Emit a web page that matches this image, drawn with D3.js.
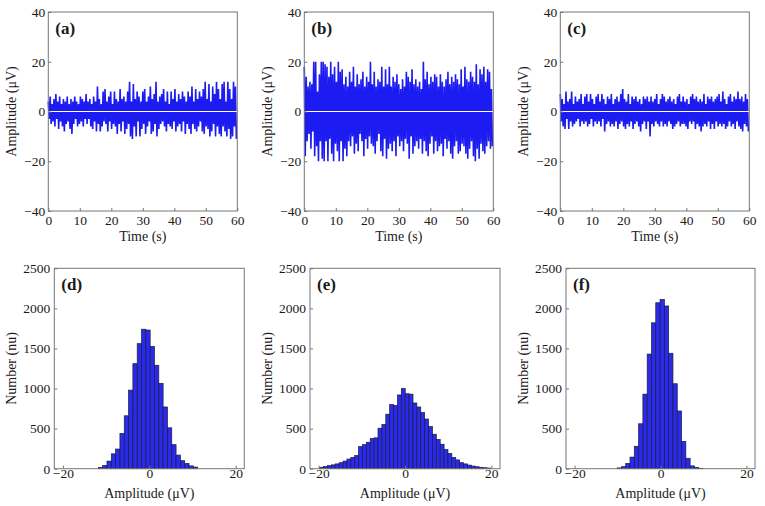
<!DOCTYPE html>
<html>
<head>
<meta charset="utf-8">
<script src="https://cdn.jsdelivr.net/npm/d3@7"></script>
<style>
  body { margin: 0; background: #fff; }
  #chart text { font-family: "Liberation Serif", "Times New Roman", "DejaVu Serif", serif !important; }
</style>
</head>
<body>
<svg id="chart" width="765" height="506"></svg>
<script>
// time signals, one sample every 0.3 s (uV)
const sampleStep = 0.3;
const timeTicks = [0, 10, 20, 30, 40, 50, 60];
const ampTicks = [-40, -20, 0, 20, 40];

const signalA = [
  4,-3,6,-5,3,-4,5,-6,7,-3,  4,-7,6,-4,3,-6,5,-8,4,-5,
  6,-4,3,-7,5,-9,4,-5,6,-3,  4,-6,3,-5,6,-4,5,-6,4,-3,
  7,-5,4,-3,5,-6,3,-7,6,-4,  4,-8,10,-5,5,-8,3,-6,8,-4,
  9,-5,4,-8,6,-4,8,-7,3,-5,  8,-6,5,-9,4,-5,9,-8,5,-4,
  6,-9,4,-7,8,-5,12,-10,4,-11, 11,-6,5,-10,8,-4,6,-10,4,-7,
  8,-5,9,-9,4,-6,6,-4,10,-9, 5,-8,7,-5,12,-10,4,-7,6,-5,
  7,-4,9,-6,4,-8,8,-5,3,-6,  8,-7,5,-4,9,-8,4,-6,7,-5,
  5,-8,8,-4,6,-9,4,-5,8,-7,  6,-9,10,-5,4,-7,9,-8,5,-6,
  8,-4,6,-8,9,-9,12,-6,5,-7, 11,-10,4,-8,10,-5,7,-10,12,-6,
  9,-9,5,-10,11,-6,12,-8,4,-10, 12,-7,9,-11,5,-10,12,-6,10,-11
];
const signalB = [
  18,-18,14,-12,10,-9,12,-15,11,-8,   20,-18,20,-14,8,-20,15,-12,20,-19,
  20,-20,19,-12,18,-20,14,-11,20,-17, 15,-20,18,-13,12,-16,20,-20,16,-12,
  17,-20,11,-15,14,-18,10,-12,16,-14, 12,-10,18,-17,10,-13,15,-16,11,-9,
  13,-12,16,-18,10,-11,14,-15,12,-10, 20,-13,11,-14,16,-17,10,-12,13,-9,
  12,-16,18,-18,10,-11,17,-19,11,-15, 18,-13,10,-16,14,-12,12,-18,15,-10,
  11,-14,9,-12,13,-16,10,-11,16,-13,  14,-19,12,-10,17,-17,11,-14,13,-12,
  10,-15,12,-11,9,-17,20,-12,13,-16,  16,-18,11,-13,14,-10,12,-17,15,-12,
  14,-16,10,-14,15,-13,12,-18,10,-11, 13,-15,16,-12,11,-17,14,-19,12,-14,
  15,-12,13,-17,11,-16,17,-13,10,-14, 18,-17,13,-19,12,-15,16,-12,14,-18,
  12,-20,19,-15,11,-19,17,-13,15,-16, 18,-17,12,-14,17,-12,16,-15,9,-14
];
const signalC = [
  7,-4,5,-6,3,-7,8,-3,4,-7,  5,-4,8,-6,3,-5,6,-4,4,-3,
  5,-6,7,-4,3,-5,6,-4,7,-6,  4,-5,7,-3,5,-6,3,-4,6,-5,
  7,-4,4,-6,7,-3,5,-8,3,-5,  6,-4,5,-6,7,-5,3,-6,5,-4,
  6,-7,4,-5,7,-4,9,-6,5,-7,  4,-5,7,-6,3,-4,6,-7,5,-5,
  6,-4,4,-6,5,-8,3,-5,6,-4,  5,-7,6,-4,4,-10,6,-5,4,-6,
  5,-4,7,-5,3,-6,5,-4,7,-6,  6,-5,4,-6,5,-4,6,-5,4,-7,
  5,-6,3,-5,6,-4,7,-6,4,-5,  6,-5,4,-6,5,-7,3,-4,6,-5,
  7,-4,5,-7,6,-5,4,-6,5,-8,  4,-6,7,-5,3,-6,6,-4,5,-7,
  6,-5,4,-7,5,-4,6,-6,7,-5,  4,-6,8,-5,5,-7,3,-6,6,-4,
  7,-6,4,-5,6,-7,5,-4,8,-6,  5,-7,6,-8,4,-5,7,-6,5,-8
];

// amplitude histograms (counts per bin)
const countTicks = [0, 500, 1000, 1500, 2000, 2500];
const histAmpTicks = [-20, 0, 20];
const histDStart = -11.8, histDWidth = 1;
const histD = [15, 40, 95, 185, 245, 440, 660, 980, 1310, 1560, 1740, 1730,
  1525, 1290, 1065, 770, 510, 300, 170, 100, 65, 35, 20];
const histEStart = -19.75, histEWidth = 0.9;
const histE = [18, 28, 38, 48, 60, 75, 95, 120, 140, 165, 275, 300, 330, 375, 385,
  505, 550, 680, 800, 790, 920, 1000, 935, 930, 820, 770, 700, 620, 525, 430,
  365, 305, 240, 190, 140, 110, 75, 60, 45, 33, 25, 17, 12, 8];
const histFStart = -10.1, histFWidth = 1;
const histF = [10, 25, 65, 145, 280, 560, 930, 1430, 1820, 2070, 2110, 2030,
  1440, 1060, 720, 340, 130, 35, 15, 5];

const lineColor = "#1c1cf2";
const barColor = "#2a2aec";
const boxColor = "#777";
const serif = "Liberation Serif";

const svg = d3.select("#chart");

function frame(g, box, tag) {
    g.append("rect")
        .attr("width", box.w).attr("height", box.h)
        .attr("fill", "none").attr("stroke", boxColor).attr("stroke-width", 1);
    g.append("text")
        .attr("x", 7).attr("y", 22)
        .style("font-family", serif)
        .attr("font-size", 17).attr("font-weight", "bold")
        .attr("fill", "#1a1a1a")
        .text(tag);
}

function styleAxis(sel) {
    sel.attr("font-family", serif).attr("font-size", 13.5);
    sel.select(".domain").remove();
    sel.selectAll(".tick line").attr("stroke", boxColor);
    sel.selectAll("text").attr("fill", "#1a1a1a").style("font-family", serif);
}

function label(g, x, y, rotate, txt) {
    g.append("text")
        .attr("transform", `translate(${x},${y})` + (rotate ? " rotate(-90)" : ""))
        .attr("text-anchor", "middle")
        .style("font-family", serif).attr("font-size", 14)
        .attr("fill", "#1a1a1a")
        .text(txt);
}

function drawSignal(box, values, tag) {
    const g = svg.append("g").attr("transform", `translate(${box.x},${box.y})`);
    const x = d3.scaleLinear().domain([0, 60]).range([0, box.w]);
    const y = d3.scaleLinear().domain([-40, 40]).range([box.h, 0]);

    const line = d3.line()
        .x((d, i) => x(i * sampleStep))
        .y(d => y(d));

    g.append("path")
        .datum(values)
        .attr("fill", "none")
        .attr("stroke", lineColor)
        .attr("stroke-width", 1.6)
        .attr("d", line);

    // white baseline through the trace
    g.append("line")
        .attr("x1", x(0)).attr("x2", x(60))
        .attr("y1", y(0)).attr("y2", y(0))
        .attr("stroke", "#fff").attr("stroke-width", 1);

    g.append("g").attr("transform", `translate(0,${box.h})`)
        .call(d3.axisBottom(x).tickValues(timeTicks).tickSizeInner(-3).tickSizeOuter(0).tickPadding(4))
        .call(styleAxis);
    g.append("g")
        .call(d3.axisLeft(y).tickValues(ampTicks).tickSizeInner(-3).tickSizeOuter(0).tickPadding(3))
        .call(styleAxis);

    frame(g, box, tag);
    label(g, box.w / 2, box.h + 30, false, "Time (s)");
    label(g, -32, box.h / 2, true, "Amplitude (μV)");
}

function drawHist(box, counts, start, width, tag) {
    const g = svg.append("g").attr("transform", `translate(${box.x},${box.y})`);
    const x = d3.scaleLinear().domain([-22, 22]).range([0, box.w]);
    const y = d3.scaleLinear().domain([0, 2500]).range([box.h, 0]);

    g.selectAll(".bar")
        .data(counts)
        .enter()
        .append("rect")
        .attr("class", "bar")
        .attr("x", (d, i) => x(start + i * width))
        .attr("width", (d, i) => x(start + (i + 1) * width) - x(start + i * width))
        .attr("y", d => y(d))
        .attr("height", d => y(0) - y(d))
        .attr("fill", barColor)
        .attr("stroke", "#1b1b3a")
        .attr("stroke-width", 0.7);

    g.append("g").attr("transform", `translate(0,${box.h})`)
        .call(d3.axisBottom(x).tickValues(histAmpTicks).tickSizeInner(-3).tickSizeOuter(0).tickPadding(0))
        .call(styleAxis);
    g.append("g")
        .call(d3.axisLeft(y).tickValues(countTicks).tickFormat(d3.format("d")).tickSizeInner(-3).tickSizeOuter(0).tickPadding(4))
        .call(styleAxis);

    frame(g, box, tag);
    label(g, box.w / 2, box.h + 29, false, "Amplitude (μV)");
    label(g, -38, box.h / 2, true, "Number (nu)");
}

drawSignal({x: 48.3, y: 12, w: 189, h: 199}, signalA, "(a)");
drawSignal({x: 304.3, y: 12, w: 189, h: 199}, signalB, "(b)");
drawSignal({x: 560.3, y: 12, w: 189, h: 199}, signalC, "(c)");

drawHist({x: 54.3, y: 268.3, w: 190, h: 200.4}, histD, histDStart, histDWidth, "(d)");
drawHist({x: 310, y: 268.3, w: 190, h: 200.4}, histE, histEStart, histEWidth, "(e)");
drawHist({x: 566, y: 268.3, w: 189, h: 200.4}, histF, histFStart, histFWidth, "(f)");
</script>
</body>
</html>
